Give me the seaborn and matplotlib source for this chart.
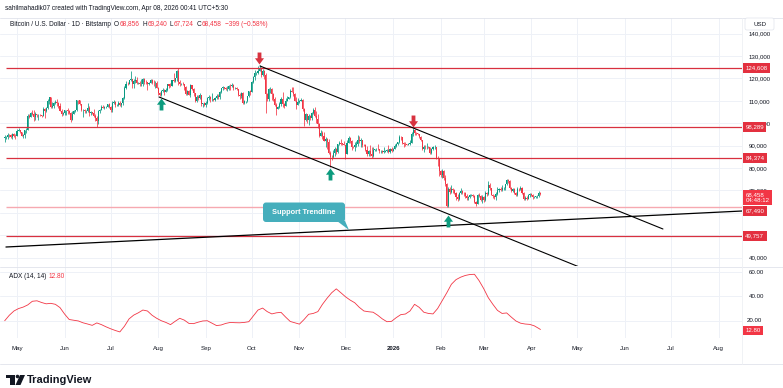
import numpy as np
import pandas as pd
import matplotlib
matplotlib.use("Agg")
import matplotlib.pyplot as plt
import matplotlib.dates as mdates
from matplotlib.path import Path
from matplotlib.patches import Polygon, FancyBboxPatch, Rectangle, Circle
import seaborn as sns

# BTC/USD daily candles (Bitstamp), thousands of USD, 23 Apr 2025 .. 7 Apr 2026
first_day = "2025-04-23"
prev_close = 93.4
close_k = [
    93.7, 93.9, 94.7, 94.6, 93.8, 95.0, 94.3, 94.2,  # Apr
    96.5, 96.9, 95.9, 94.3, 94.7, 96.8, 97.0, 103.2, 102.9, 104.6, 104.1, 102.8, 104.2, 103.5, 103.7,
    103.5, 103.1, 106.5, 105.6, 106.8, 109.7, 111.7, 107.3, 107.8, 109.0, 109.4, 108.9, 107.8, 105.6, 103.9, 104.6,
    105.7, 105.8, 105.4, 104.7, 101.5, 104.3, 105.6, 105.7, 110.3, 110.2, 108.7, 105.9, 106.1, 105.4, 105.6,
    106.8, 104.6, 104.9, 104.6, 103.3, 102.1, 100.9, 105.5, 106.0, 107.3, 106.9, 107.1, 107.3, 108.4, 107.1,
    105.7, 108.8, 109.6, 108.0, 108.2, 109.2, 108.2, 108.9, 111.2, 115.9, 117.5, 117.4, 119.1, 119.8, 117.7,
    118.7, 119.3, 117.9, 117.9, 117.3, 117.4, 119.9, 118.5, 118.3, 117.6, 117.9, 119.4, 118.0, 117.8, 117.8, 115.7,
    113.3, 112.5, 114.2, 115.0, 114.1, 115.0, 117.5, 116.6, 116.5, 119.3, 118.7, 120.1, 123.3, 118.3, 117.4,
    117.5, 117.4, 116.2, 112.9, 114.3, 112.5, 116.9, 115.4, 113.5, 110.1, 111.8, 111.2, 112.6, 108.4, 108.8, 108.2,
    109.2, 111.2, 111.7, 110.7, 110.7, 110.2, 111.2, 112.1, 111.5, 113.9, 115.5, 116.0, 115.9, 115.3, 115.4,
    116.8, 116.5, 117.1, 115.7, 115.7, 115.3, 112.7, 112.0, 113.3, 109.0, 109.7, 109.7, 112.1, 114.4, 114.0,
    118.6, 120.5, 122.3, 122.4, 123.5, 124.7, 121.4, 123.3, 121.7, 113.2, 110.6, 115.2, 115.3, 113.0, 110.8,
    108.2, 106.5, 107.2, 108.6, 110.6, 108.4, 107.6, 110.1, 111.0, 111.6, 114.5, 114.1, 112.9, 110.0, 108.3, 109.6,
    110.1, 110.5, 106.5, 101.6, 103.9, 101.3, 103.4, 102.3, 104.7, 106.0, 103.0, 101.7, 99.7, 94.5, 95.6,
    94.2, 92.2, 92.9, 91.5, 86.6, 85.1, 84.7, 86.8, 88.3, 87.3, 90.5, 91.3, 90.9, 90.8, 90.4,
    86.3, 91.3, 93.4, 92.1, 89.4, 89.3, 90.4, 90.6, 92.7, 92.0, 92.5, 90.3, 90.2, 88.2, 86.4,
    87.8, 86.1, 85.5, 88.1, 88.3, 88.6, 88.5, 87.4, 87.6, 87.2, 87.3, 87.8, 87.9, 87.1, 88.4, 87.5,
    88.7, 89.9, 90.6, 91.4, 93.9, 93.7, 91.3, 90.9, 90.5, 90.4, 90.8, 91.2, 95.3, 97.0, 95.6,
    95.5, 95.1, 94.0, 92.6, 88.3, 89.5, 89.4, 89.5, 89.2, 86.6, 88.3, 89.2, 89.2, 84.5, 84.1, 78.6,
    76.9, 78.7, 75.6, 73.0, 63.0, 70.5, 69.3, 70.6, 70.1, 68.8, 67.0, 66.2, 68.8, 69.8,
    68.8, 68.7, 67.5, 66.4, 66.9, 67.9, 68.0, 67.6, 64.6, 64.0, 67.9, 67.4, 65.9, 67.0,
    65.7, 68.8, 68.2, 72.6, 70.9, 68.1, 67.3, 67.1, 68.4, 70.2, 70.5, 70.4, 70.9, 70.9, 72.7,
    74.8, 74.0, 71.2, 69.9, 70.5, 68.7, 68.0, 70.8, 70.5, 71.2, 68.8, 66.3, 66.8, 66.3, 67.8, 68.2,
    68.1, 66.9, 66.9, 67.3, 67.3, 68.856, 68.458,
]
high_k = [
    94.7, 94.5, 95.7, 95.3, 95.2, 95.6, 95.4, 95.2,
    97.4, 97.9, 96.9, 95.9, 95.2, 97.0, 97.7, 104.1, 104.0, 104.9, 105.7, 105.8, 104.9, 104.3, 104.2,
    104.0, 103.7, 107.1, 107.0, 107.2, 110.7, 111.9, 111.6, 109.4, 109.4, 110.4, 110.7, 109.3, 108.9, 106.3, 105.0,
    105.9, 105.9, 106.8, 105.9, 105.0, 105.3, 106.0, 106.0, 110.5, 110.5, 110.4, 108.5, 106.2, 106.2, 106.1,
    108.9, 107.8, 105.5, 105.2, 106.4, 104.0, 103.1, 106.1, 106.3, 108.0, 108.2, 107.8, 107.6, 108.5, 108.8,
    107.6, 109.7, 110.5, 109.7, 108.4, 109.7, 109.7, 109.0, 111.9, 116.8, 118.9, 118.2, 119.5, 123.2, 119.9,
    119.8, 120.9, 120.8, 118.6, 118.9, 119.7, 120.2, 120.1, 119.5, 118.5, 118.3, 119.8, 119.8, 119.3, 118.8, 118.9,
    116.1, 114.0, 114.8, 115.8, 115.1, 115.7, 117.7, 117.6, 117.9, 119.3, 122.3, 120.3, 123.7, 124.5, 119.2,
    117.9, 118.6, 117.5, 116.8, 114.6, 114.8, 117.4, 117.0, 115.6, 113.6, 112.4, 112.6, 113.5, 112.6, 108.9, 109.5,
    109.9, 111.8, 112.6, 112.2, 113.4, 110.9, 111.5, 112.9, 113.2, 114.3, 115.6, 116.8, 116.3, 116.1, 116.8,
    117.0, 117.3, 117.9, 117.5, 116.1, 116.0, 115.4, 113.3, 114.0, 113.8, 110.3, 109.8, 112.3, 114.5, 114.8,
    118.9, 121.0, 123.9, 122.9, 125.7, 126.2, 125.1, 124.1, 123.8, 122.5, 113.5, 115.9, 116.0, 115.9, 113.6,
    111.9, 109.0, 107.5, 109.4, 111.7, 114.0, 109.0, 111.3, 112.0, 111.7, 115.4, 116.1, 116.0, 113.6, 111.5, 111.1,
    110.5, 111.2, 110.8, 107.0, 104.5, 104.2, 104.0, 103.6, 105.0, 107.0, 107.4, 105.3, 104.0, 99.9, 96.8,
    96.6, 96.0, 93.8, 93.2, 93.0, 87.5, 85.6, 88.0, 89.2, 88.9, 90.6, 91.9, 93.0, 91.2, 91.9,
    90.4, 92.3, 94.1, 94.0, 92.7, 89.9, 91.6, 92.2, 94.6, 94.4, 93.5, 92.7, 90.6, 90.5, 90.0,
    88.1, 90.4, 89.3, 89.4, 88.6, 89.1, 90.5, 88.1, 88.0, 88.2, 89.4, 88.0, 88.5, 90.3, 89.0, 89.2,
    88.9, 90.9, 91.0, 91.8, 94.7, 94.4, 93.8, 91.4, 91.6, 90.8, 91.2, 92.4, 96.2, 97.9, 97.2,
    95.9, 95.6, 95.2, 94.1, 92.7, 90.4, 90.3, 91.2, 89.9, 89.3, 88.9, 89.6, 90.4, 89.3, 85.2, 84.3,
    79.2, 79.4, 79.0, 76.9, 73.2, 71.7, 71.5, 72.2, 71.1, 70.6, 69.2, 68.3, 69.3, 70.9,
    70.1, 69.5, 69.1, 68.4, 67.5, 68.3, 68.5, 68.3, 67.8, 65.2, 68.5, 68.8, 68.0, 67.8,
    67.6, 69.8, 69.3, 74.1, 73.3, 71.0, 68.6, 67.9, 69.2, 71.5, 71.1, 71.4, 72.2, 71.3, 73.0,
    75.3, 75.0, 74.6, 71.5, 71.0, 70.9, 69.1, 71.6, 71.2, 71.8, 71.6, 69.2, 67.3, 67.3, 68.4, 68.7,
    69.0, 68.6, 67.4, 67.6, 67.8, 69.6, 69.24,
]
low_k = [
    91.8, 92.8, 92.9, 93.9, 93.5, 92.9, 93.9, 92.9,
    94.1, 96.3, 95.7, 94.1, 93.5, 93.4, 95.8, 96.9, 102.3, 102.7, 103.7, 100.8, 101.5, 102.6, 101.4,
    103.1, 102.6, 103.0, 102.1, 105.1, 106.2, 108.7, 106.7, 106.9, 106.7, 108.7, 107.6, 106.8, 105.4, 103.1, 103.7,
    103.8, 103.8, 104.3, 104.3, 100.4, 101.3, 104.2, 105.0, 105.3, 108.4, 108.1, 105.4, 102.7, 104.7, 104.5,
    105.1, 103.4, 103.6, 103.9, 102.6, 100.8, 98.2, 99.6, 104.6, 105.8, 106.6, 106.3, 106.8, 107.2, 106.8,
    105.1, 105.1, 108.5, 107.3, 107.8, 107.8, 107.5, 107.4, 108.3, 110.9, 115.3, 116.9, 117.3, 118.9, 115.8,
    115.7, 117.8, 117.5, 117.5, 116.6, 116.5, 116.4, 117.3, 117.5, 114.7, 117.2, 117.8, 117.6, 116.8, 115.8, 115.6,
    112.7, 112.1, 112.0, 114.1, 112.7, 114.0, 114.3, 115.9, 116.3, 116.5, 118.3, 118.2, 118.9, 117.2, 116.8,
    117.2, 117.2, 114.7, 112.4, 112.4, 112.4, 111.7, 114.7, 112.0, 109.4, 109.4, 110.5, 110.9, 107.5, 107.4, 107.8,
    107.3, 108.6, 110.5, 109.3, 110.0, 110.0, 110.1, 110.6, 110.8, 110.9, 113.3, 114.8, 115.2, 114.9, 114.4,
    114.6, 114.7, 116.0, 115.0, 115.4, 115.0, 112.1, 111.0, 111.1, 108.6, 108.6, 109.1, 109.5, 111.8, 112.7,
    113.9, 118.0, 119.3, 121.6, 122.0, 123.9, 120.6, 121.2, 119.6, 104.6, 109.8, 110.1, 113.3, 110.2, 110.0,
    107.5, 103.5, 106.4, 106.7, 107.5, 107.4, 106.8, 107.5, 109.7, 110.7, 111.3, 113.9, 112.1, 109.9, 106.3, 108.0,
    109.2, 109.7, 105.5, 98.9, 100.8, 100.3, 99.3, 101.3, 101.5, 104.3, 102.6, 100.0, 98.0, 94.0, 94.5,
    93.1, 92.0, 89.3, 88.6, 86.4, 80.6, 83.6, 84.6, 85.3, 86.2, 86.5, 90.1, 90.2, 90.3, 90.2,
    83.8, 86.3, 91.1, 91.2, 88.2, 88.9, 87.7, 89.4, 89.6, 91.3, 89.3, 89.5, 89.8, 87.6, 85.2,
    85.3, 85.3, 84.4, 85.1, 87.8, 87.7, 87.9, 86.5, 86.6, 86.9, 86.7, 87.1, 87.3, 86.7, 86.8, 87.2,
    87.4, 88.6, 89.5, 90.2, 91.3, 92.7, 90.8, 89.3, 89.8, 90.1, 90.2, 90.2, 91.0, 94.5, 94.8,
    94.6, 94.8, 93.6, 92.0, 87.9, 87.2, 88.5, 88.6, 88.9, 86.1, 86.4, 87.9, 88.7, 84.0, 81.1, 76.3,
    75.8, 75.7, 74.5, 72.1, 62.5, 62.6, 68.2, 68.9, 68.9, 68.4, 65.8, 65.3, 65.9, 68.6,
    68.2, 67.6, 66.8, 65.7, 65.9, 66.5, 67.4, 67.2, 64.2, 62.9, 63.8, 67.0, 65.2, 64.3,
    64.8, 65.4, 67.4, 67.8, 70.2, 67.8, 66.7, 66.0, 65.8, 67.9, 69.4, 69.6, 69.9, 70.3, 70.4,
    72.4, 73.5, 70.8, 69.1, 69.4, 68.2, 67.4, 67.4, 69.8, 70.0, 68.5, 65.8, 65.9, 65.6, 66.1, 66.9,
    67.3, 66.2, 66.5, 66.7, 66.8, 66.9, 67.724,
]
# ADX(14, 14), every third bar plus the last one
adx_vals = [
    20.0, 24.5, 28.0, 30.0, 31.2, 33.0, 36.0, 36.4, 35.0, 33.9,
    34.3, 33.5, 30.8, 25.5, 21.0, 20.4, 19.8, 18.3, 17.3, 16.2,
    18.2, 16.8, 15.0, 13.4, 12.0, 10.8, 15.5, 21.5, 24.6, 26.5,
    28.8, 28.0, 24.5, 22.0, 20.0, 18.6, 16.8, 19.5, 22.0, 20.5,
    17.8, 17.6, 18.8, 19.8, 20.0, 18.0, 16.0, 16.5, 17.8, 18.6,
    18.4, 18.3, 18.6, 19.2, 24.0, 28.8, 30.4, 27.5, 25.6, 26.5,
    26.9, 23.0, 19.4, 18.3, 17.2, 21.0, 25.3, 26.0, 27.5, 33.5,
    38.5, 43.0, 46.2, 43.0, 39.7, 37.0, 34.8, 31.0, 28.0, 27.4,
    27.0, 24.5, 21.5, 19.2, 19.5, 22.5, 25.0, 25.5, 28.0, 33.5,
    31.0, 27.0, 26.0, 25.6, 30.0, 36.5, 43.0, 50.0, 53.8, 55.8,
    57.2, 58.0, 58.2, 53.0, 46.5, 39.0, 33.5, 28.5, 26.0, 26.4,
    23.0, 19.8, 18.0, 17.3, 17.0, 15.8, 13.6, 12.8,
]

red_levels = [124.608, 98.289, 84.374, 49.757]
red_level_labels = ["124,608", "98,289", "84,374", "49,757"]
pink_level = 62.6
price_ticks = [40, 70, 80, 90, 100, 110, 120, 130, 140]
month_labels = ["May", "Jun", "Jul", "Aug", "Sep", "Oct", "Nov", "Dec",
                "2026", "Feb", "Mar", "Apr", "May", "Jun", "Jul", "Aug"]

UP, DOWN = "#089981", "#f23645"
LINE_RED, PINK, GRID, TXT = "#d8303f", "#f6a9b1", "#eef1f7", "#131722"
TAG_RED, TEAL = "#e3303f", "#45aebc"

sns.set_theme(style="white")
plt.rcParams["font.family"] = ["Liberation Sans", "DejaVu Sans"]
FS = 4.4
FS_HEAD = 4.7

W, H = 783, 388
fig = plt.figure(figsize=(W / 100, H / 100), dpi=100)
fig.patch.set_facecolor("white")
inch = fig.dpi_scale_trans
renderer = fig.canvas.get_renderer()


def P(px, py):
    return px / 100, (H - py) / 100


def text_run(x, py, parts, fs):
    # draw coloured pieces one after another on one line
    for s, col, gap in parts:
        tx = fig.text(*P(x, py), s, transform=inch, fontsize=fs, color=col, va="center")
        x = tx.get_window_extent(renderer=renderer).x1 + gap


ax = fig.add_axes([0, 1 - 266 / H, 742 / W, 248 / H])
ax2 = fig.add_axes([0, 1 - 338 / H, 742 / W, 72 / H])

t0 = mdates.date2num(pd.Timestamp(first_day))
t = t0 + np.arange(len(close_k))
o = np.array([prev_close] + close_k[:-1])
c = np.array(close_k)
hi = np.maximum(np.array(high_k), np.maximum(o, c))
lo = np.minimum(np.array(low_k), np.minimum(o, c))
cols = np.where(c >= o, UP, DOWN)

xlim = (t0 - 3.07, t0 + 480.3)
for a in (ax, ax2):
    a.set_xlim(*xlim)
    a.set_facecolor("white")
    for s in a.spines.values():
        s.set_visible(False)

months = pd.date_range("2025-05-01", "2026-08-01", freq="MS")
mt = mdates.date2num(months)

# main pane
ax.set_ylim(36.25, 146.96)
for m in mt:
    ax.axvline(m, color=GRID, lw=0.7, zorder=0)
for y in range(40, 150, 10):
    ax.axhline(y, color=GRID, lw=0.7, zorder=0)

ax.vlines(t, lo, hi, colors=cols, lw=0.55, zorder=2)
body = np.maximum(np.abs(c - o), 0.18)
ax.bar(t, body, bottom=np.minimum(o, c), width=0.7, color=cols, lw=0, zorder=3)

ax.hlines(red_levels, t0 + 0.8, xlim[1], colors=LINE_RED, lw=0.9, zorder=4)
ax.hlines([pink_level], t0 + 0.8, xlim[1], colors=PINK, lw=1.0, zorder=1)

# channel and support drawings (date offset, price)
ax.plot([t0 + 166.3, t0 + 428.8], [125.54, 52.77], color="black", lw=0.8, zorder=5)
ax.plot([t0 + 100.5, t0 + 374.8], [111.7, 35.67], color="black", lw=0.8, zorder=5)
ax.plot([t0 + 0.8, xlim[1]], [44.73, 60.8], color="black", lw=0.9, zorder=5)

# arrows
down = Path([(-0.16, 0.5), (0.16, 0.5), (0.16, 0.02), (0.38, 0.02), (0, -0.5),
             (-0.38, 0.02), (-0.16, 0.02), (-0.16, 0.5)], closed=True)
up = Path([(x, -y) for x, y in down.vertices], closed=True)
ax.plot([t0 + 165.6, t0 + 265.7], [128.9, 101.0], ls="none", marker=down,
        ms=8.6, color="#d8323f", mec="none", zorder=6)
ax.plot([t0 + 101.5, t0 + 211.9, t0 + 288.8], [108.6, 77.5, 56.3], ls="none",
        marker=up, ms=8.6, color="#0c9b7e", mec="none", zorder=6)

ax.yaxis.tick_right()
ax.set_yticks(price_ticks)
ax.set_yticklabels([f"{v * 1000:,}" for v in price_ticks])
ax.tick_params(axis="y", length=0, pad=5, labelsize=FS, colors=TXT)
ax.tick_params(axis="x", bottom=False, labelbottom=False)
ax.set_xticks([])


def tag(a, val, text, color, dy=0):
    a.annotate(text, xy=(1, val), xycoords=a.get_yaxis_transform(), xytext=(2.4, dy),
               textcoords="offset points", ha="left", va="center", fontsize=FS,
               color="white", annotation_clip=False, zorder=10,
               bbox=dict(boxstyle="square,pad=0.38", fc=color, ec="none"))


for v, s in zip(red_levels, red_level_labels):
    tag(ax, v, s, TAG_RED)
tag(ax, 68.458, "68,458\n04:48:12", DOWN, dy=-2.6)
tag(ax, 60.8, "67,490", TAG_RED)

# ADX pane
ax2.set_ylim(5.8, 65)
for m in mt:
    ax2.axvline(m, color=GRID, lw=0.7, zorder=0)
for y in (20, 40, 60):
    ax2.axhline(y, color=GRID, lw=0.7, zorder=0)
adx_t = t0 + np.array(list(range(0, len(close_k), 3)) + [len(close_k) - 1])
sns.lineplot(x=adx_t, y=adx_vals, ax=ax2, color=DOWN, lw=0.6)
ax2.yaxis.tick_right()
ax2.set_yticks([20, 40, 60])
ax2.set_yticklabels(["", "40.00", "60.00"])
ax2.tick_params(axis="y", length=0, pad=5, labelsize=FS, colors=TXT)
ax2.set_xticks(mt)
ax2.set_xticklabels(month_labels)
ax2.tick_params(axis="x", length=0, pad=5.5, labelsize=FS, colors=TXT)
for lab in ax2.get_xticklabels():
    if lab.get_text() == "2026":
        lab.set_fontweight("bold")
ax2.set_xlabel("")
ax2.set_ylabel("")
# the 20.00 label sits just above the value tag
ax2.annotate("20.00", xy=(1, 20.6), xycoords=ax2.get_yaxis_transform(), xytext=(3.6, 0),
             textcoords="offset points", ha="left", va="center", fontsize=FS, color=TXT,
             annotation_clip=False)
tag(ax2, 12.0, "12.80", DOWN)

# pane borders
for py in (18, 266.5, 364):
    fig.add_artist(plt.Line2D([0, W / 100], [P(0, py)[1]] * 2, transform=inch, color="#e0e3eb", lw=0.6))
fig.add_artist(plt.Line2D([P(742, 0)[0]] * 2, [P(0, 18)[1], P(0, 364)[1]], transform=inch,
                          color="#eef0f4", lw=0.6))

# header
fig.text(*P(5, 8.5), "sahilmahadik07 created with TradingView.com, Apr 08, 2026 00:41 UTC+5:30",
         transform=inch, fontsize=FS_HEAD, color=TXT, va="center")
text_run(10, 24, [("Bitcoin / U.S. Dollar \u00b7 1D \u00b7 Bitstamp", TXT, 3), ("O", TXT, 0.4),
                  ("68,856", DOWN, 3), ("H", TXT, 0.4), ("69,240", DOWN, 3), ("L", TXT, 0.4),
                  ("67,724", DOWN, 3), ("C", TXT, 0.4), ("68,458", DOWN, 3),
                  ("\u2212399 (\u22120.58%)", DOWN, 0)], FS_HEAD)
text_run(9, 276.5, [("ADX (14, 14)", TXT, 2.5), ("12.80", DOWN, 0)], FS_HEAD)

# USD box
fig.add_artist(FancyBboxPatch(P(745, 30), 0.29, 0.12, boxstyle="round,pad=0,rounding_size=0.02",
                              transform=inch, fc="white", ec="#e0e3eb", lw=0.5, zorder=8))
fig.text(*P(759.5, 24), "USD", transform=inch, fontsize=FS, color=TXT, ha="center", va="center", zorder=9)

# callout
fig.add_artist(FancyBboxPatch(P(263, 222), 0.82, 0.195, boxstyle="round,pad=0,rounding_size=0.03",
                              transform=inch, fc=TEAL, ec="none", zorder=8))
fig.add_artist(Polygon([P(337, 221), P(345, 221), P(349, 230)], closed=True, transform=inch,
                       fc=TEAL, ec="none", zorder=8))
fig.text(*P(304, 212), "Support Trendline", transform=inch, fontsize=5.3, color="white",
         fontweight="bold", ha="center", va="center", zorder=9)

# TradingView logo
fig.add_artist(Rectangle(P(6, 378), 0.085, 0.03, transform=inch, fc="#131722", ec="none"))
fig.add_artist(Rectangle(P(10, 385), 0.045, 0.1, transform=inch, fc="#131722", ec="none"))
fig.add_artist(Circle(P(17.5, 376.5), 0.018, transform=inch, fc="#131722", ec="none"))
fig.add_artist(Polygon([P(20, 375), P(25, 375), P(20.5, 385), P(15.5, 385)], closed=True,
                       transform=inch, fc="#131722", ec="none"))
fig.text(*P(27, 380), "TradingView", transform=inch, fontsize=7.9, color="#131722",
         fontweight="bold", va="center")

fig.savefig("out.png", dpi=100, facecolor="white")
